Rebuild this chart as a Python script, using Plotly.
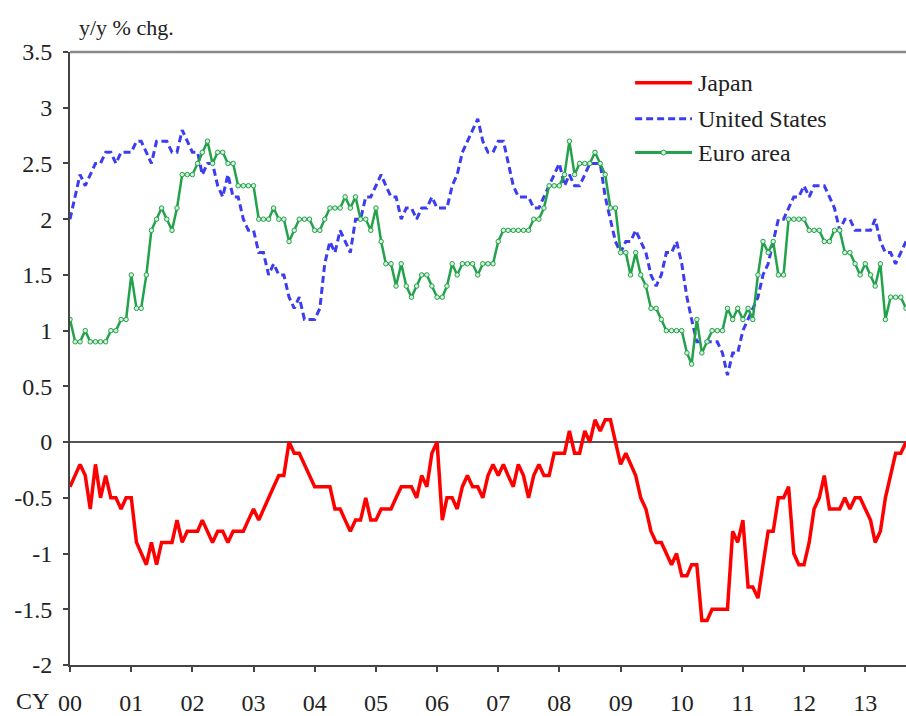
import pandas as pd
import plotly.graph_objects as go

# monthly, Jan 2000 - Sep 2013
months = pd.date_range("2000-01-01", periods=165, freq="MS")

japan = [
    -0.4, -0.3, -0.2, -0.3, -0.6, -0.2, -0.5, -0.3, -0.5, -0.5, -0.6, -0.5,  # 00
    -0.5, -0.9, -1.0, -1.1, -0.9, -1.1, -0.9, -0.9, -0.9, -0.7, -0.9, -0.8,  # 01
    -0.8, -0.8, -0.7, -0.8, -0.9, -0.8, -0.8, -0.9, -0.8, -0.8, -0.8, -0.7,  # 02
    -0.6, -0.7, -0.6, -0.5, -0.4, -0.3, -0.3, 0.0, -0.1, -0.1, -0.2, -0.3,   # 03
    -0.4, -0.4, -0.4, -0.4, -0.6, -0.6, -0.7, -0.8, -0.7, -0.7, -0.5, -0.7,  # 04
    -0.7, -0.6, -0.6, -0.6, -0.5, -0.4, -0.4, -0.4, -0.5, -0.3, -0.4, -0.1,  # 05
    0.0, -0.7, -0.5, -0.5, -0.6, -0.4, -0.3, -0.4, -0.4, -0.5, -0.3, -0.2,   # 06
    -0.3, -0.2, -0.3, -0.4, -0.2, -0.3, -0.5, -0.3, -0.2, -0.3, -0.3, -0.1,  # 07
    -0.1, -0.1, 0.1, -0.1, -0.1, 0.1, 0.0, 0.2, 0.1, 0.2, 0.2, 0.0,          # 08
    -0.2, -0.1, -0.2, -0.3, -0.5, -0.6, -0.8, -0.9, -0.9, -1.0, -1.1, -1.0,  # 09
    -1.2, -1.2, -1.1, -1.1, -1.6, -1.6, -1.5, -1.5, -1.5, -1.5, -0.8, -0.9,  # 10
    -0.7, -1.3, -1.3, -1.4, -1.1, -0.8, -0.8, -0.5, -0.5, -0.4, -1.0, -1.1,  # 11
    -1.1, -0.9, -0.6, -0.5, -0.3, -0.6, -0.6, -0.6, -0.5, -0.6, -0.5, -0.5,  # 12
    -0.6, -0.7, -0.9, -0.8, -0.5, -0.3, -0.1, -0.1, 0.0,                     # 13
]

united_states = [
    2.0, 2.2, 2.4, 2.3, 2.4, 2.5, 2.5, 2.6, 2.6, 2.5, 2.6, 2.6,  # 00
    2.6, 2.7, 2.7, 2.6, 2.5, 2.7, 2.7, 2.7, 2.6, 2.6, 2.8, 2.7,  # 01
    2.6, 2.6, 2.4, 2.5, 2.5, 2.3, 2.2, 2.4, 2.2, 2.2, 2.0, 1.9,  # 02
    1.9, 1.7, 1.7, 1.5, 1.6, 1.5, 1.5, 1.3, 1.2, 1.3, 1.1, 1.1,  # 03
    1.1, 1.2, 1.6, 1.8, 1.7, 1.9, 1.8, 1.7, 2.0, 2.0, 2.2, 2.2,  # 04
    2.3, 2.4, 2.3, 2.2, 2.2, 2.0, 2.1, 2.1, 2.0, 2.1, 2.1, 2.2,  # 05
    2.1, 2.1, 2.1, 2.3, 2.4, 2.6, 2.7, 2.8, 2.9, 2.7, 2.6, 2.6,  # 06
    2.7, 2.7, 2.5, 2.3, 2.2, 2.2, 2.2, 2.1, 2.1, 2.2, 2.3, 2.4,  # 07
    2.5, 2.3, 2.4, 2.3, 2.3, 2.4, 2.5, 2.5, 2.5, 2.2, 2.0, 1.8,  # 08
    1.7, 1.8, 1.8, 1.9, 1.8, 1.7, 1.5, 1.4, 1.5, 1.7, 1.7, 1.8,  # 09
    1.6, 1.3, 1.1, 0.9, 0.9, 0.9, 0.9, 0.9, 0.8, 0.6, 0.8, 0.8,  # 10
    1.0, 1.1, 1.2, 1.3, 1.5, 1.6, 1.8, 2.0, 2.0, 2.1, 2.2, 2.2,  # 11
    2.3, 2.2, 2.3, 2.3, 2.3, 2.2, 2.1, 1.9, 2.0, 2.0, 1.9, 1.9,  # 12
    1.9, 1.9, 2.0, 1.8, 1.7, 1.7, 1.6, 1.7, 1.8,                 # 13
]

euro_area = [
    1.1, 0.9, 0.9, 1.0, 0.9, 0.9, 0.9, 0.9, 1.0, 1.0, 1.1, 1.1,  # 00
    1.5, 1.2, 1.2, 1.5, 1.9, 2.0, 2.1, 2.0, 1.9, 2.1, 2.4, 2.4,  # 01
    2.4, 2.5, 2.6, 2.7, 2.5, 2.6, 2.6, 2.5, 2.5, 2.3, 2.3, 2.3,  # 02
    2.3, 2.0, 2.0, 2.0, 2.1, 2.0, 2.0, 1.8, 1.9, 2.0, 2.0, 2.0,  # 03
    1.9, 1.9, 2.0, 2.1, 2.1, 2.1, 2.2, 2.1, 2.2, 2.0, 2.0, 1.9,  # 04
    2.1, 1.8, 1.6, 1.6, 1.4, 1.6, 1.4, 1.3, 1.4, 1.5, 1.5, 1.4,  # 05
    1.3, 1.3, 1.4, 1.6, 1.5, 1.6, 1.6, 1.6, 1.5, 1.6, 1.6, 1.6,  # 06
    1.8, 1.9, 1.9, 1.9, 1.9, 1.9, 1.9, 2.0, 2.0, 2.1, 2.3, 2.3,  # 07
    2.3, 2.4, 2.7, 2.4, 2.5, 2.5, 2.5, 2.6, 2.5, 2.4, 2.1, 2.1,  # 08
    1.7, 1.7, 1.5, 1.7, 1.5, 1.4, 1.2, 1.2, 1.1, 1.0, 1.0, 1.0,  # 09
    1.0, 0.8, 0.7, 1.1, 0.8, 0.9, 1.0, 1.0, 1.0, 1.2, 1.1, 1.2,  # 10
    1.1, 1.2, 1.1, 1.5, 1.8, 1.7, 1.8, 1.5, 1.5, 2.0, 2.0, 2.0,  # 11
    2.0, 1.9, 1.9, 1.9, 1.8, 1.8, 1.9, 1.9, 1.7, 1.7, 1.6, 1.5,  # 12
    1.6, 1.5, 1.4, 1.6, 1.1, 1.3, 1.3, 1.3, 1.2,                 # 13
]

y_tick_vals = [3.5, 3, 2.5, 2, 1.5, 1, 0.5, 0, -0.5, -1, -1.5, -2]
y_tick_text = ["3.5", "3", "2.5", "2", "1.5", "1", "0.5", "0", "-0.5", "-1", "-1.5", "-2"]

RED = "#ff0000"
BLUE = "#3c3cf0"
GREEN = "#22a24a"
TEXT = "#222222"
FONT = "Liberation Serif"

fig = go.Figure()
fig.add_trace(go.Scatter(x=months, y=japan, mode="lines", name="Japan",
                         line=dict(color=RED, width=3.5)))
fig.add_trace(go.Scatter(x=months, y=united_states, mode="lines", name="United States",
                         line=dict(color=BLUE, width=3, dash="7px,4px")))
fig.add_trace(go.Scatter(x=months, y=euro_area, mode="lines+markers", name="Euro area",
                         line=dict(color=GREEN, width=2.5),
                         marker=dict(symbol="circle", size=4.5, color="#d5efdb",
                                     line=dict(color=GREEN, width=1))))

fig.update_layout(
    width=906, height=716,
    margin=dict(l=70, r=0, t=52, b=48),
    plot_bgcolor="white", paper_bgcolor="white",
    showlegend=False,
    font=dict(family=FONT, size=24, color=TEXT),
)
fig.update_xaxes(
    type="date", range=[months[0], months[-1]],
    tick0="2000-01-01", dtick="M12", tickformat="%y",
    ticks="outside", ticklen=5, tickwidth=2, tickcolor="#444",
    showline=True, linecolor="#444", linewidth=2,
    showgrid=False, zeroline=False, ticklabelstandoff=10,
)
fig.update_yaxes(
    range=[-2, 3.5], tickvals=y_tick_vals, ticktext=y_tick_text,
    ticks="outside", ticklen=5, tickwidth=2, tickcolor="#444",
    showline=True, linecolor="#444", linewidth=2,
    showgrid=False, zeroline=True, zerolinecolor="#555", zerolinewidth=1.5,
    ticklabelstandoff=6,
)

# top border of the plot frame (no right border visible)
fig.add_shape(type="line", xref="paper", yref="paper", x0=0, x1=1, y0=1, y1=1,
              line=dict(color="#888", width=2.5))

# unit label and calendar-year label
fig.add_annotation(text="y/y % chg.", xref="paper", yref="paper", x=0.008, y=1.04,
                   xanchor="left", yanchor="middle", showarrow=False,
                   font=dict(size=22))
fig.add_annotation(text="CY", xref="paper", yref="paper", x=-0.045, y=-0.058,
                   xanchor="center", yanchor="middle", showarrow=False)

# hand-drawn legend
legend_rows = [("Japan", RED, "solid", 0.950), ("United States", BLUE, "7px,4px", 0.891),
               ("Euro area", GREEN, "solid", 0.836)]
for name, color, dash, ypos in legend_rows:
    fig.add_shape(type="line", xref="paper", yref="paper", x0=0.676, x1=0.744,
                  y0=ypos, y1=ypos, line=dict(color=color, width=3.5 if name == "Japan" else 3, dash=dash))
    fig.add_annotation(text=name, xref="paper", yref="paper", x=0.749, y=ypos,
                       xanchor="left", yanchor="middle", showarrow=False)
fig.add_shape(type="circle", xref="paper", yref="paper", xsizemode="pixel", ysizemode="pixel",
              xanchor=0.71, yanchor=0.836, x0=-2.5, x1=2.5, y0=-2.5, y1=2.5,
              fillcolor="#d5efdb", line=dict(color=GREEN, width=1))

# drop the browser's default body margin so the figure sits at the window corner
fig.write_html("out.html", config={"displayModeBar": False},
               post_script="document.body.style.margin='0';")
